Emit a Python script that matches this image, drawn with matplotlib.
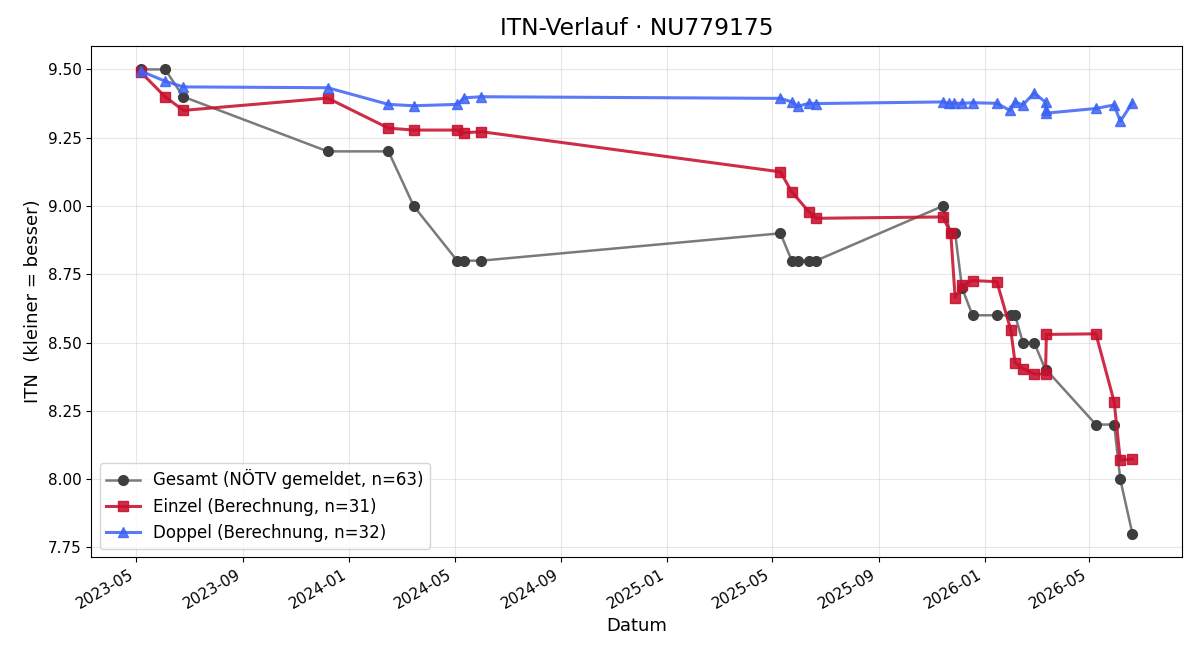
import pandas as pd
import matplotlib
matplotlib.use("Agg")
import matplotlib.pyplot as plt
import matplotlib.dates as mdates

# Gesamt (reported ITN)
gesamt_dates = ["2023-05-06", "2023-06-03", "2023-06-24", "2023-12-07", "2024-02-15", "2024-03-15",
                "2024-05-04", "2024-05-12", "2024-06-01", "2025-05-11", "2025-05-24", "2025-05-31",
                "2025-06-13", "2025-06-21", "2025-11-14", "2025-11-23", "2025-11-28", "2025-12-06",
                "2025-12-18", "2026-01-15", "2026-01-31", "2026-02-05", "2026-02-14", "2026-02-27",
                "2026-03-12", "2026-03-13", "2026-05-09", "2026-05-30", "2026-06-06", "2026-06-20"]
gesamt_itn = [9.50, 9.50, 9.40, 9.20, 9.20, 9.00,
              8.80, 8.80, 8.80, 8.90, 8.80, 8.80,
              8.80, 8.80, 9.00, 8.90, 8.90, 8.70,
              8.60, 8.60, 8.60, 8.60, 8.50, 8.50,
              8.40, 8.40, 8.20, 8.20, 8.00, 7.80]

einzel_dates = ["2023-05-06", "2023-06-03", "2023-06-24", "2023-12-07", "2024-02-15", "2024-03-15",
                "2024-05-04", "2024-05-12", "2024-06-01", "2025-05-11", "2025-05-24", "2025-06-13",
                "2025-06-21", "2025-11-14", "2025-11-23", "2025-11-28", "2025-12-06", "2025-12-18",
                "2026-01-15", "2026-01-31", "2026-02-05", "2026-02-14", "2026-02-27", "2026-03-12",
                "2026-03-13", "2026-05-09", "2026-05-30", "2026-06-06", "2026-06-20"]
einzel_itn = [9.490, 9.400, 9.350, 9.395, 9.285, 9.278,
              9.278, 9.268, 9.272, 9.125, 9.052, 8.978,
              8.955, 8.960, 8.900, 8.665, 8.710, 8.727,
              8.723, 8.547, 8.426, 8.405, 8.385, 8.385,
              8.530, 8.532, 8.283, 8.070, 8.074]

doppel_dates = ["2023-05-06", "2023-06-03", "2023-06-24", "2023-12-07", "2024-02-15", "2024-03-15",
                "2024-05-04", "2024-05-12", "2024-06-01", "2025-05-11", "2025-05-24", "2025-05-31",
                "2025-06-13", "2025-06-21", "2025-11-14", "2025-11-21", "2025-11-27", "2025-12-06",
                "2025-12-18", "2026-01-15", "2026-01-30", "2026-02-05", "2026-02-14", "2026-02-27",
                "2026-03-12", "2026-03-13", "2026-03-13", "2026-05-09", "2026-05-30", "2026-06-06",
                "2026-06-20"]
doppel_itn = [9.494, 9.457, 9.436, 9.433, 9.372, 9.367,
              9.372, 9.396, 9.400, 9.394, 9.381, 9.365,
              9.376, 9.375, 9.381, 9.376, 9.376, 9.376,
              9.378, 9.376, 9.350, 9.381, 9.370, 9.414,
              9.380, 9.352, 9.340, 9.357, 9.370, 9.310,
              9.378]

fig, ax = plt.subplots(figsize=(12, 6.6), dpi=100)

ax.plot(pd.to_datetime(gesamt_dates), gesamt_itn, color="#7a7a7a",
        marker="o", markersize=7, linewidth=1.8,
        markerfacecolor="#3e3e3e", markeredgecolor="#3e3e3e",
        label="Gesamt (NÖTV gemeldet, n=63)")
ax.plot(pd.to_datetime(einzel_dates), einzel_itn, color="#c8102e", alpha=0.88,
        marker="s", markersize=7, linewidth=2.2,
        label="Einzel (Berechnung, n=31)")
ax.plot(pd.to_datetime(doppel_dates), doppel_itn, color="#3d63f5", alpha=0.85,
        marker="^", markersize=7, linewidth=2.2,
        label="Doppel (Berechnung, n=32)")

ax.set_title("ITN-Verlauf · NU779175", fontsize=16.8, pad=8)
ax.set_xlabel("Datum", fontsize=13)
ax.set_ylabel("ITN  (kleiner = besser)", fontsize=13)
ax.yaxis.set_major_formatter(plt.FormatStrFormatter("%.2f"))
ax.xaxis.set_major_locator(mdates.MonthLocator(bymonth=[1, 5, 9]))
ax.xaxis.set_major_formatter(mdates.DateFormatter("%Y-%m"))
ax.tick_params(labelsize=11)
ax.grid(True, alpha=0.3)
ax.legend(loc="lower left", fontsize=12)
fig.autofmt_xdate()

fig.subplots_adjust(left=0.076, right=0.985, top=0.93, bottom=0.156)
plt.savefig("out.png")
